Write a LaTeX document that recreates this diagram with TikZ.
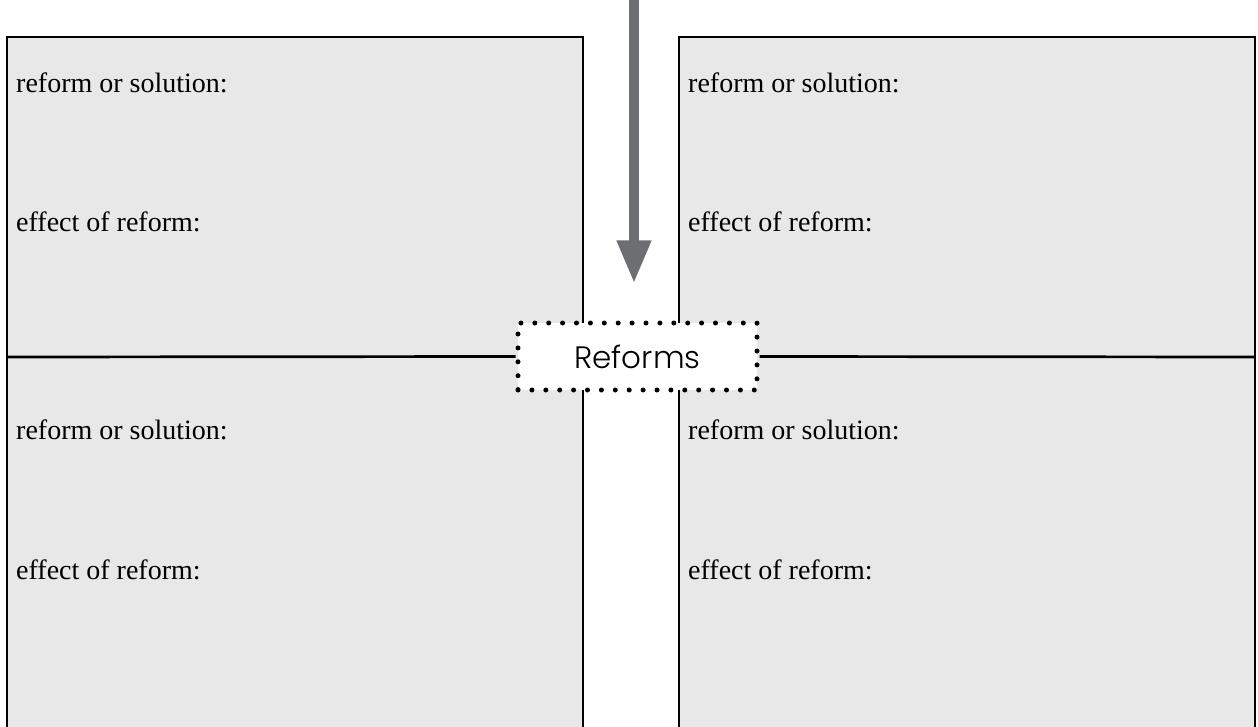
\documentclass[tikz,border=0pt]{standalone}
\usepackage{fontspec}
\setmainfont{Liberation Serif}
\newfontfamily\reformsfont{Poppins}[UprightFont=* Light]
\usepackage{xcolor}
\usetikzlibrary{arrows.meta,positioning}
\definecolor{boxgray}{HTML}{E8E8E8}
\definecolor{arrowgray}{HTML}{6D6E71}
\tikzset{
  panel/.style={draw=black, line width=2.7pt, fill=boxgray, line join=miter},
  divider/.style={draw=black, line width=2.7pt},
  prompt/.style={anchor=base west, inner sep=0pt, font=\fontsize{28}{31}\selectfont},
  dotbox/.style={draw=black, fill=white, line width=5pt, line cap=round,
    dash pattern=on 0pt off 13.9pt, minimum width=239pt, minimum height=67pt,
    inner sep=0pt, font=\reformsfont\fontsize{31}{34}\selectfont},
  bigarrow/.style={draw=arrowgray, line width=10pt,
    -{Triangle[width=32pt,length=43pt]}}
}

\begin{document}
\begin{tikzpicture}[x=1pt,y=-1pt]

\useasboundingbox (0,0) rectangle (1258,727);
\clip (0,0) rectangle (1258,727);

% panels
\path[panel] (7,740) -- (7,37) -- (583,37) -- (583,740);
\path[panel] (679,740) -- (679,37) -- (1255,37) -- (1255,740);

% centre
\node[dotbox] (reforms) at (637.5,356.5) {Reforms};
\coordinate (leftedge) at (7,357);
\coordinate (rightedge) at (1255,357);
\draw[divider] (leftedge) -- (reforms.west);
\draw[divider] (reforms.east) -- (rightedge);

% arrow
\coordinate (arrowtop) at (634,-5);
\draw[bigarrow] (arrowtop) -- ([yshift=37pt]reforms.north -| arrowtop);

% prompts
\node[prompt] (lsol1) at (16,93) {reform or solution:};
\node[prompt] (leff1) at (16,232) {effect of reform:};
\node[prompt] (lsol2) at (16,439) {reform or solution:};
\node[prompt] (leff2) at (16,579) {effect of reform:};
\node[prompt] (rsol1) at (688,93) {reform or solution:};
\node[prompt] (reff1) at (688,232) {effect of reform:};
\node[prompt] (rsol2) at (688,439) {reform or solution:};
\node[prompt] (reff2) at (688,579) {effect of reform:};

\end{tikzpicture}
\end{document}
